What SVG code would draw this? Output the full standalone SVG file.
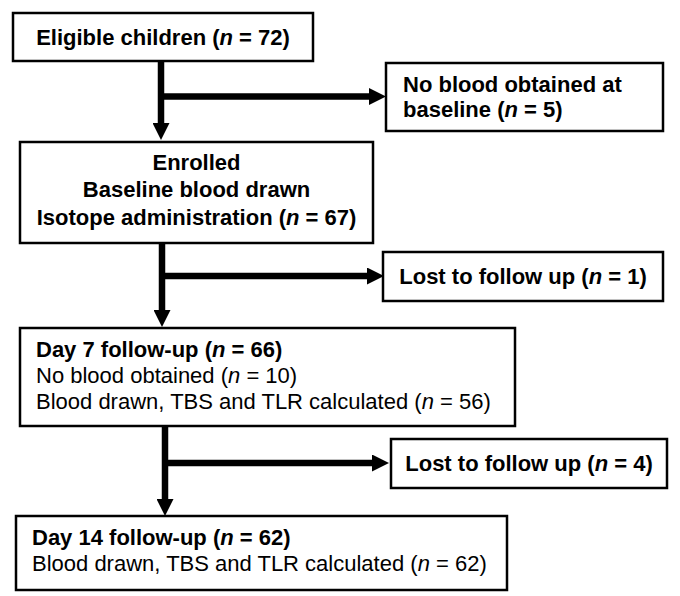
<svg xmlns="http://www.w3.org/2000/svg" width="680" height="596" viewBox="0 0 680 596">
<defs>
<style>
.box{fill:#fff;stroke:#000;stroke-width:2.5}
.t{font-family:"Liberation Sans",Arial,sans-serif;font-size:22px;fill:#000}
.b{font-weight:bold}
.c{text-anchor:middle}
.conn{stroke:#000;stroke-width:6.5;fill:none}
</style>
<marker id="ah" viewBox="0 0 17 17" refX="0" refY="8.5" markerWidth="17" markerHeight="17" markerUnits="userSpaceOnUse" orient="auto">
<path d="M0,0 L17,8.5 L0,17 Z" fill="#000"/>
</marker>
</defs>
<rect width="680" height="596" fill="#fff"/>
<g id="connectors">
<path class="conn" d="M161,61 V123" marker-end="url(#ah)"/>
<path class="conn" d="M161,96.5 H369" marker-end="url(#ah)"/>
<path class="conn" d="M162,243 V310" marker-end="url(#ah)"/>
<path class="conn" d="M162,276 H367" marker-end="url(#ah)"/>
<path class="conn" d="M165,426 V499" marker-end="url(#ah)"/>
<path class="conn" d="M165,463 H372" marker-end="url(#ah)"/>
</g>
<g id="eligible">
<rect class="box" x="13" y="13" width="300" height="48"/>
<text class="t b c" x="163" y="45">Eligible children (<tspan font-style="italic">n</tspan> = 72)</text>
</g>
<g id="noblood">
<rect class="box" x="386" y="63" width="277" height="68"/>
<text class="t b" x="403" y="92">No blood obtained at</text>
<text class="t b" x="403" y="117">baseline (<tspan font-style="italic">n</tspan> = 5)</text>
</g>
<g id="enrolled">
<rect class="box" x="20" y="142" width="353" height="101"/>
<text class="t b c" x="196.5" y="170">Enrolled</text>
<text class="t b c" x="196.5" y="197">Baseline blood drawn</text>
<text class="t b c" x="196.5" y="225">Isotope administration (<tspan font-style="italic">n</tspan> = 67)</text>
</g>
<g id="lost1">
<rect class="box" x="383" y="252" width="280" height="49"/>
<text class="t b c" x="523" y="284">Lost to follow up (<tspan font-style="italic">n</tspan> = 1)</text>
</g>
<g id="day7">
<rect class="box" x="20" y="328" width="495" height="98"/>
<text class="t b" x="36" y="357">Day 7 follow-up (<tspan font-style="italic">n</tspan> = 66)</text>
<text class="t" x="36" y="383">No blood obtained (<tspan font-style="italic">n</tspan> = 10)</text>
<text class="t" x="36" y="409">Blood drawn, TBS and TLR calculated (<tspan font-style="italic">n</tspan> = 56)</text>
</g>
<g id="lost4">
<rect class="box" x="391" y="439" width="276" height="49"/>
<text class="t b c" x="529" y="471">Lost to follow up (<tspan font-style="italic">n</tspan> = 4)</text>
</g>
<g id="day14">
<rect class="box" x="16" y="516" width="491" height="74"/>
<text class="t b" x="32" y="545">Day 14 follow-up (<tspan font-style="italic">n</tspan> = 62)</text>
<text class="t" x="32" y="571">Blood drawn, TBS and TLR calculated (<tspan font-style="italic">n</tspan> = 62)</text>
</g>
</svg>
